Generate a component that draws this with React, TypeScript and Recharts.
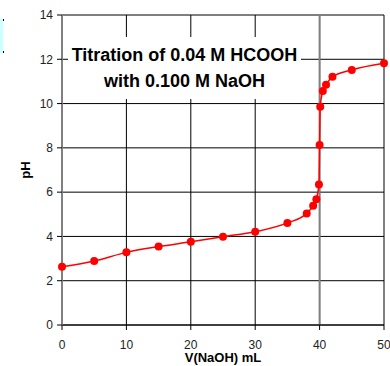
import { LineChart, Line, XAxis, YAxis, CartesianGrid, ReferenceLine } from "recharts"

// titration readings
const volumeML = [0, 5, 10, 15, 20, 25, 30, 35, 38, 39, 39.5, 39.9, 40, 40.1, 40.5, 41, 42, 45, 50]
const phValues = [2.63, 2.89, 3.28, 3.54, 3.76, 3.99, 4.21, 4.61, 5.04, 5.39, 5.68, 6.35, 8.13, 9.86, 10.57, 10.85, 11.21, 11.52, 11.82]
const xTicks = [0, 10, 20, 30, 40, 50]
const yTicks = [0, 2, 4, 6, 8, 10, 12, 14]
const titleLines = ["Titration of 0.04 M HCOOH", "with 0.100 M NaOH"]

const data = volumeML.map((v, i) => ({ v, ph: phValues[i] }))

const FONT = "Arial, 'Liberation Sans', sans-serif"

const YLabel = ({ viewBox }: any) => {
  const cx = viewBox.x + 25
  const cy = viewBox.y + viewBox.height / 2
  return (
    <text x={cx} y={cy} transform={`rotate(-90 ${cx} ${cy})`} textAnchor="middle" dominantBaseline="central"
      fontFamily={FONT} fontSize={13} fontWeight="bold" fill="#000">
      pH
    </text>
  )
}

const XLabel = ({ viewBox }: any) => (
  <text x={viewBox.x + viewBox.width / 2} y={viewBox.y + 37} textAnchor="middle"
    fontFamily={FONT} fontSize={13} fontWeight="bold" fill="#000">
    V(NaOH) mL
  </text>
)

export default function App() {
  return (
    <div style={{ position: "relative", width: 390, height: 366, background: "#fff", fontFamily: FONT, overflow: "hidden" }}>
      <style>{`html, body { margin: 0; padding: 0; overflow: hidden; }`}</style>
      {/* clipped text box edge at the far left */}
      <div style={{ position: "absolute", left: 0, top: 19, width: 3, height: 34, background: "#ccffff" }} />
      <div style={{ position: "absolute", left: 3, top: 19, width: 1, height: 2, background: "#000" }} />
      <div style={{ position: "absolute", left: 3, top: 51, width: 1, height: 2, background: "#000" }} />
      <LineChart width={390} height={366} data={data} margin={{ top: 15, right: 6, bottom: 0, left: 0 }}>
        <CartesianGrid stroke="#000" strokeWidth={1} horizontalValues={yTicks} verticalValues={xTicks} />
        <XAxis
          dataKey="v"
          type="number"
          domain={[0, 50]}
          ticks={xTicks}
          height={41}
          stroke="#000"
          tickSize={5}
          tickMargin={10}
          tick={{ fill: "#222", fontSize: 12, fontFamily: FONT }}
          label={<XLabel />}
        />
        <YAxis
          type="number"
          domain={[0, 14]}
          ticks={yTicks}
          width={62}
          stroke="#808080"
          strokeWidth={2}
          tickSize={5}
          tickMargin={4}
          tickLine={{ stroke: "#000", strokeWidth: 1 }}
          tick={{ fill: "#222", fontSize: 12, fontFamily: FONT }}
          label={<YLabel />}
        />
        <ReferenceLine x={40} stroke="#808080" strokeWidth={2} />
        <Line
          dataKey="ph"
          type="monotone"
          stroke="#ff0000"
          strokeWidth={1.5}
          dot={{ r: 4, fill: "#ff0000", stroke: "none" }}
          isAnimationActive={false}
        />
      </LineChart>
      <div style={{ position: "absolute", left: 68, top: 37, width: 233, height: 62, background: "#fff", textAlign: "center",
        fontWeight: "bold", fontSize: 18, lineHeight: "26px", paddingTop: 5, boxSizing: "border-box", color: "#000" }}>
        {titleLines.map((t) => (
          <div key={t}>{t}</div>
        ))}
      </div>
    </div>
  )
}
